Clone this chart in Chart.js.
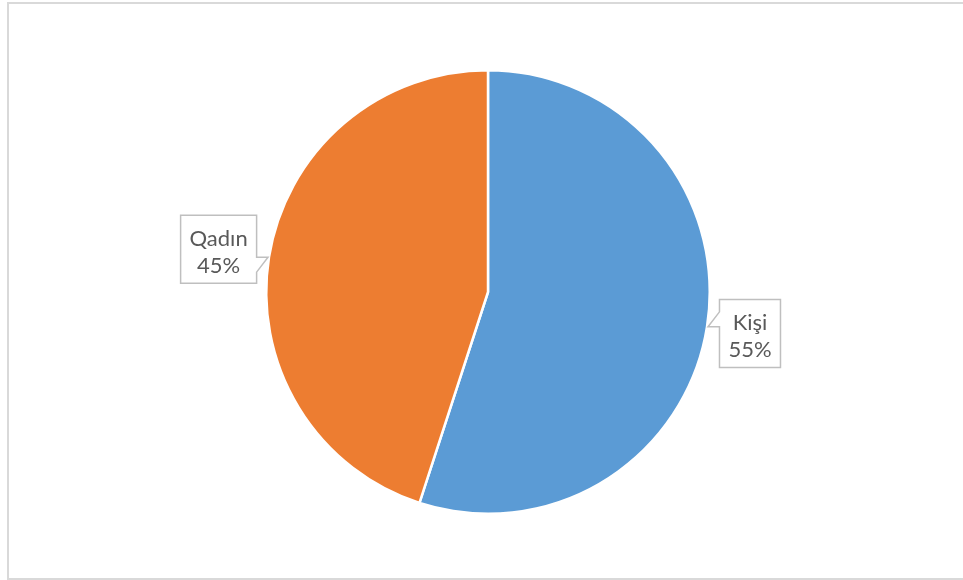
<!DOCTYPE html>
<html>
<head>
<meta charset="utf-8">
<script src="https://cdn.jsdelivr.net/npm/chart.js@4"></script>
<style>
  html, body { margin: 0; padding: 0; background: #fff; }
  canvas { display: block; }
</style>
</head>
<body>
<canvas id="c" width="963" height="580"></canvas>
<script>
const categories = ['Kişi', 'Qadın'];
const values = [55, 45];
const colors = ['#5B9BD5', '#ED7D31'];

const frame = {
  id: 'frame',
  beforeDraw(chart) {
    const ctx = chart.ctx;
    ctx.save();
    ctx.strokeStyle = '#D9D9D9';
    ctx.lineWidth = 2;
    ctx.strokeRect(8, 3, 1000, 576);
    ctx.restore();
  }
};

const callouts = {
  id: 'callouts',
  afterDraw(chart) {
    const ctx = chart.ctx;
    const meta = chart.getDatasetMeta(0);
    const data = chart.data.datasets[0].data;
    const total = data.reduce((a, b) => a + b, 0);
    ctx.save();
    ctx.font = '22px Lato, "Open Sans", sans-serif';
    ctx.textAlign = 'center';
    ctx.textBaseline = 'alphabetic';
    meta.data.forEach((arc, i) => {
      const p = arc.getProps(['x', 'y', 'startAngle', 'endAngle', 'outerRadius'], true);
      const mid = (p.startAngle + p.endAngle) / 2;
      const dx = Math.cos(mid), dy = Math.sin(mid);
      const tipX = p.x + dx * (p.outerRadius + 1);
      const tipY = p.y + dy * (p.outerRadius + 1);
      const lines = [chart.data.labels[i], Math.round(data[i] / total * 100) + '%'];
      const tw = Math.max(...lines.map(l => ctx.measureText(l).width));
      const w = Math.round(tw + 18);
      const h = 68;
      const gap = 12;
      const side = dx >= 0 ? 1 : -1;
      const cx = tipX + dx * (w / 2 + gap);
      const cy = tipY + dy * (w / 2 + gap);
      const left = cx - w / 2, right = cx + w / 2, top = cy - h / 2, bottom = cy + h / 2;
      const j1 = tipY;
      const j2 = tipY - Math.sign(dy || 1) * 15;
      ctx.beginPath();
      if (side > 0) {
        ctx.moveTo(left, top);
        ctx.lineTo(right, top);
        ctx.lineTo(right, bottom);
        ctx.lineTo(left, bottom);
        ctx.lineTo(left, Math.max(j1, j2));
        if (j1 > j2) { ctx.lineTo(tipX, tipY); ctx.lineTo(left, j2); }
        else { ctx.lineTo(left, j2); ctx.lineTo(tipX, tipY); ctx.lineTo(left, j1); }
        ctx.closePath();
      } else {
        ctx.moveTo(right, top);
        ctx.lineTo(right, Math.min(j1, j2));
        if (j1 < j2) { ctx.lineTo(tipX, tipY); ctx.lineTo(right, j2); }
        else { ctx.lineTo(right, j2); ctx.lineTo(tipX, tipY); ctx.lineTo(right, j1); }
        ctx.lineTo(right, bottom);
        ctx.lineTo(left, bottom);
        ctx.lineTo(left, top);
        ctx.closePath();
      }
      ctx.fillStyle = '#FFFFFF';
      ctx.fill();
      ctx.strokeStyle = '#BFBFBF';
      ctx.lineWidth = 1.5;
      ctx.stroke();
      ctx.fillStyle = '#595959';
      ctx.fillText(lines[0], cx, top + 31);
      ctx.fillText(lines[1], cx, top + 58);
    });
    ctx.restore();
  }
};

new Chart(document.getElementById('c'), {
  type: 'pie',
  data: {
    labels: categories,
    datasets: [{
      data: values,
      backgroundColor: colors,
      borderColor: '#FFFFFF',
      borderWidth: 2.5
    }]
  },
  options: {
    responsive: false,
    animation: false,
    layout: { padding: { left: 265, right: 252, top: 69, bottom: 65 } },
    plugins: {
      legend: { display: false },
      tooltip: { enabled: false }
    }
  },
  plugins: [frame, callouts]
});
</script>
</body>
</html>
